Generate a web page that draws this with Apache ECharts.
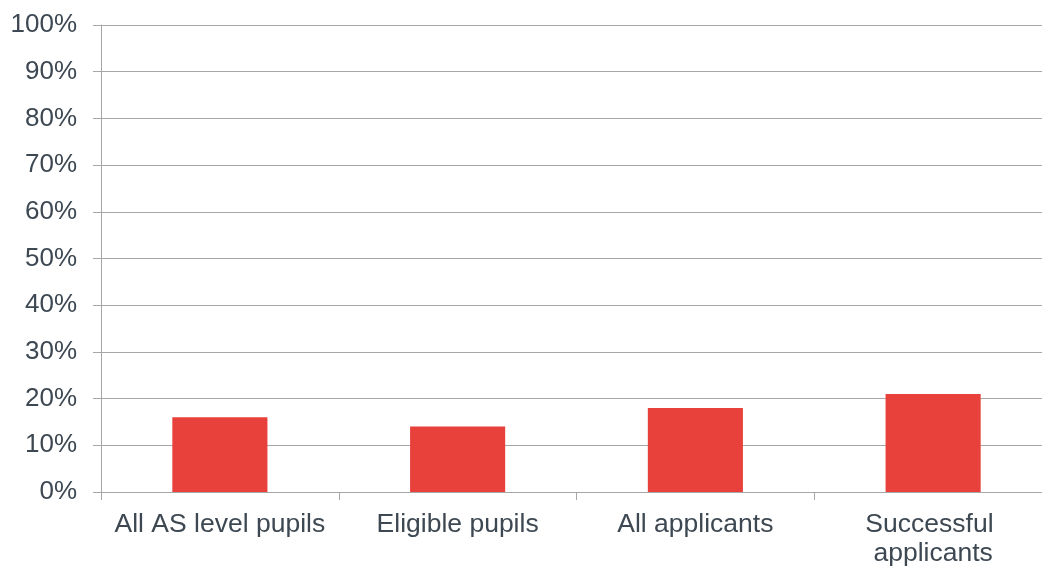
<!DOCTYPE html>
<html>
<head>
<meta charset="utf-8">
<script src="https://cdn.jsdelivr.net/npm/echarts@6/dist/echarts.min.js"></script>
<style>
  html, body { margin: 0; padding: 0; background: #ffffff; }
  #chart { width: 1042px; height: 566px; }
</style>
</head>
<body>
<div id="chart"></div>
<script>
// Share of each group (percent)
const categories = ['All AS level pupils', 'Eligible pupils', 'All applicants', 'Successful applicants'];
const shares = [16, 14, 18, 21];
const yTicks = { min: 0, max: 100, step: 10 };

const axisGray = '#A6A6A6';
const textColor = '#3D4852';
const fontFamily = '"Liberation Sans", Arial, sans-serif';

const chart = echarts.init(document.getElementById('chart'), null, { renderer: 'canvas' });

chart.setOption({
  animation: false,
  backgroundColor: '#ffffff',
  // fixed plot rectangle; it runs slightly past the right edge of the canvas
  grid: {
    left: 101, top: 25, width: 951, height: 467,
    containLabel: false,
    outerBoundsMode: 'none'
  },
  xAxis: {
    type: 'category',
    data: categories,
    axisLine: { show: true, lineStyle: { color: axisGray, width: 1 } },
    axisTick: { show: true, length: 8, lineStyle: { color: axisGray } },
    axisLabel: {
      interval: 0,
      margin: 18,
      color: textColor,
      fontFamily: fontFamily,
      fontSize: 26.5,
      lineHeight: 29,
      width: 230,
      overflow: 'break',
      align: 'center'
    }
  },
  yAxis: {
    type: 'value',
    min: yTicks.min,
    max: yTicks.max,
    interval: yTicks.step,
    axisLine: { show: true, lineStyle: { color: axisGray, width: 1 } },
    axisTick: { show: true, length: 8, lineStyle: { color: axisGray } },
    splitLine: { show: true, lineStyle: { color: axisGray, width: 1 } },
    axisLabel: {
      margin: 24,
      color: textColor,
      fontFamily: fontFamily,
      fontSize: 26,
      formatter: v => v + '%'
    }
  },
  series: [{
    type: 'bar',
    data: shares,
    barCategoryGap: '60%',
    itemStyle: { color: '#E8403A' }
  }]
});
</script>
</body>
</html>
